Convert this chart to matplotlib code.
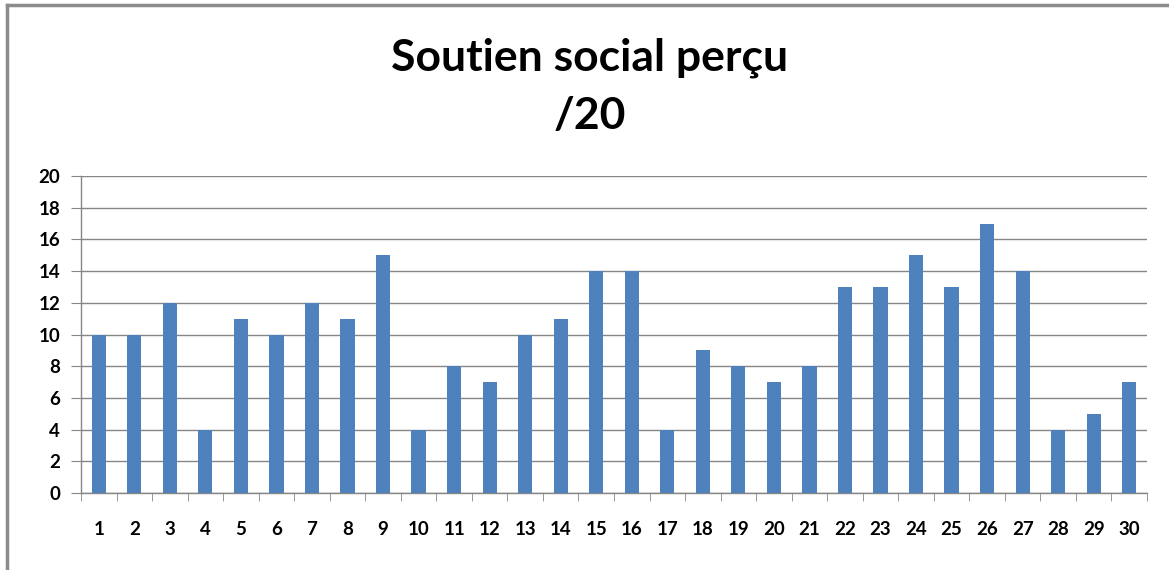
import matplotlib.pyplot as plt
from matplotlib.lines import Line2D

# Données
participants = [str(i) for i in range(1, 31)]
scores = [10, 10, 12, 4, 11, 10, 12, 11, 15, 4,
          8, 7, 10, 11, 14, 14, 4, 9, 8, 7,
          8, 13, 13, 15, 13, 17, 14, 4, 5, 7]
yticks = list(range(0, 21, 2))

plt.rcParams['font.family'] = ['Lato', 'DejaVu Sans']

fig = plt.figure(figsize=(11.69, 5.70), dpi=100)
ax = fig.add_axes([81 / 1169, 1 - 493 / 570, (1147 - 81) / 1169, (493 - 176) / 570])

x = list(range(len(participants)))
ax.bar(x, scores, width=0.4, color='#4F81BD', zorder=3)

ax.set_xlim(-0.5, len(participants) - 0.5)
ax.set_ylim(0, 20)
ax.set_yticks(yticks)
ax.set_yticklabels([str(v) for v in yticks], fontsize=13.5, fontweight='bold')
ax.set_xticks(x)
ax.set_xticklabels(participants, fontsize=13.5, fontweight='bold')
ax.tick_params(axis='x', length=0, pad=20)
ax.set_xticks([i - 0.5 for i in range(len(participants) + 1)], minor=True)
ax.tick_params(axis='x', which='minor', length=6, color='#868686', direction='out')
ax.tick_params(axis='y', length=7, color='#868686', pad=8)

ax.yaxis.grid(True, color='#868686', linewidth=1, zorder=0)
for s in ['top', 'right']:
    ax.spines[s].set_visible(False)
for s in ['left', 'bottom']:
    ax.spines[s].set_color('#868686')
    ax.spines[s].set_linewidth(1)

fig.text(590 / 1169, 1 - 58 / 570, 'Soutien social perçu', ha='center', va='center',
         fontsize=32, fontweight='bold')
fig.text(590 / 1169, 1 - 116 / 570, '/20', ha='center', va='center',
         fontsize=32, fontweight='bold')

# cadre du graphique
fig.add_artist(Line2D([7 / 1169, 7 / 1169], [0, 1 - 5 / 570], color='#8c8c8c', linewidth=2.5))
fig.add_artist(Line2D([7 / 1169, 1], [1 - 5 / 570, 1 - 5 / 570], color='#8c8c8c', linewidth=2.5))

fig.savefig('out.png', dpi=100)
